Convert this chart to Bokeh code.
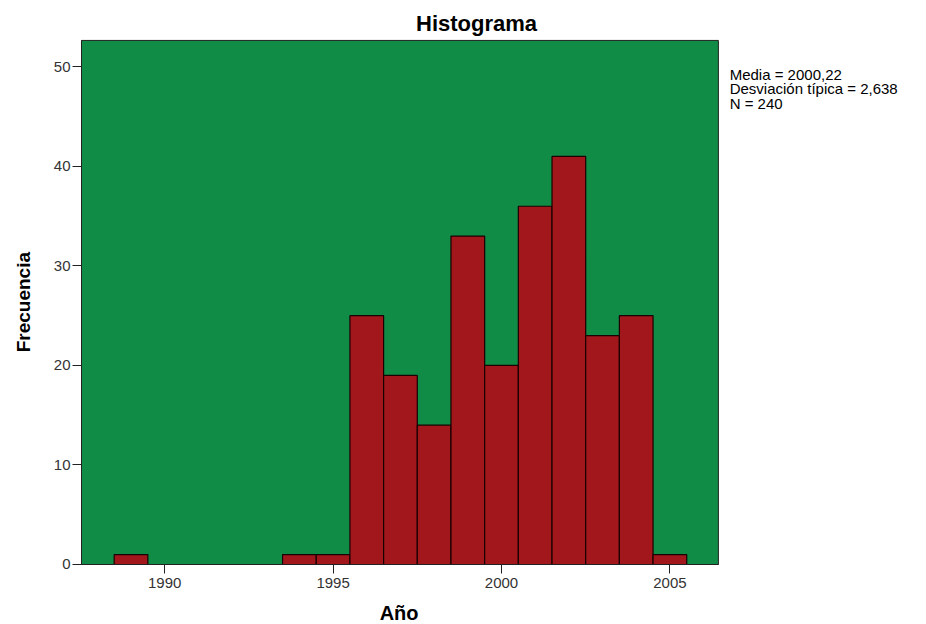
import math
from bokeh.plotting import figure
from bokeh.models import Range1d, FixedTicker, SingleIntervalTicker, Label
from bokeh.embed import file_html
from bokeh.resources import INLINE

# Data
years = [1989, 1994, 1995, 1996, 1997, 1998, 1999, 2000, 2001, 2002, 2003, 2004, 2005]
counts = [1, 1, 1, 25, 19, 14, 33, 20, 36, 41, 23, 25, 1]
x_ticks = [1990, 1995, 2000, 2005]
title_text = "Histograma"
x_label = "Año"
y_label = "Frecuencia"
stats_lines = ["Media = 2000,22", "Desviación típica = 2,638", "N = 240"]

# Plot-area extent in data units (the green panel)
X0, X1 = 1987.53, 2006.44
Y0, Y1 = 0, 52.66

FONT = "Liberation Sans"

p = figure(width=926, height=624, output_backend="svg", toolbar_location=None,
           x_range=Range1d(1985.125, 2012.619), y_range=Range1d(-6.029, 56.672),
           min_border_left=0, min_border_right=0, min_border_top=0, min_border_bottom=0)

p.background_fill_color = "white"
p.border_fill_color = "white"
p.outline_line_color = None
p.xgrid.visible = False
p.ygrid.visible = False

# green plotting panel
p.quad(left=[X0], right=[X1], bottom=[Y0], top=[Y1],
       fill_color="#118C47", line_color="#222222", line_width=1)

p.vbar(x=years, top=counts, width=1.0, bottom=0,
       fill_color="#A1171C", line_color="#1a0000", line_width=1.2)

for ax in (p.xaxis[0], p.yaxis[0]):
    ax.major_label_text_font = FONT
    ax.major_label_text_font_size = "15px"
    ax.major_label_text_color = "#333333"
    ax.major_tick_in = 0
    ax.major_tick_out = 9
    ax.minor_tick_line_color = None
    ax.axis_line_color = "#222222"
    ax.major_tick_line_color = "#222222"
    ax.major_tick_line_width = 1

p.xaxis.ticker = FixedTicker(ticks=x_ticks)
p.xaxis.bounds = (X0, X1)
p.xaxis.fixed_location = Y0
p.xaxis.major_label_standoff = 5

p.yaxis.ticker = SingleIntervalTicker(interval=10)
p.yaxis.bounds = (Y0, Y1)
p.yaxis.fixed_location = X0
p.yaxis.major_label_standoff = 2

# Title
p.add_layout(Label(x=1999.26, y=54.41, text=title_text, text_align="center",
                   text_baseline="alphabetic", text_font=FONT, text_font_size="22px",
                   text_font_style="bold", text_color="black"))

# Axis titles
p.add_layout(Label(x=1996.96, y=-4.85, text=x_label, text_align="center",
                   text_baseline="alphabetic", text_font=FONT, text_font_size="20px",
                   text_font_style="bold", text_color="black"))
p.add_layout(Label(x=1985.82, y=26.36, text=y_label, text_align="center", angle=math.pi / 2,
                   text_baseline="alphabetic", text_font=FONT, text_font_size="19px",
                   text_font_style="bold", text_color="black"))

# Stats
for t, yy in zip(stats_lines, [49.24, 47.82, 46.36]):
    p.add_layout(Label(x=2006.775, y=yy, text=t, text_align="left",
                       text_baseline="alphabetic", text_font=FONT, text_font_size="15px",
                       text_color="black"))

open("out.html", "w").write(file_html(p, INLINE))
